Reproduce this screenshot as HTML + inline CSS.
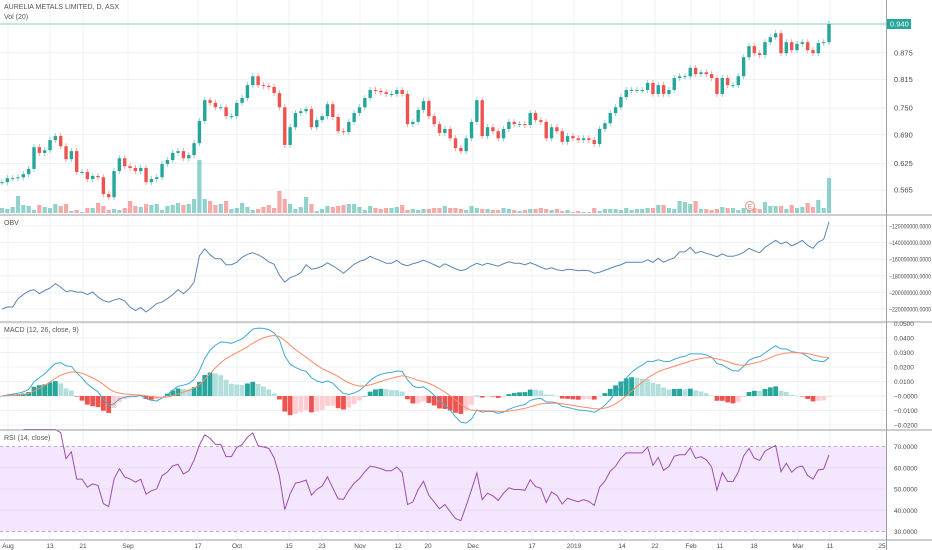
<!DOCTYPE html>
<html><head><meta charset="utf-8"><style>
html,body{margin:0;padding:0;background:#fff;}
svg{display:block;font-family:"Liberation Sans",sans-serif;}
</style></head><body>
<svg id="c" width="932" height="550" viewBox="0 0 932 550"></svg>
<script>
const closes=[0.583,0.592,0.592,0.594,0.601,0.613,0.662,0.649,0.655,0.678,0.687,0.664,0.635,0.653,0.606,0.606,0.590,0.597,0.594,0.556,0.549,0.608,0.637,0.619,0.615,0.608,0.615,0.583,0.590,0.594,0.624,0.633,0.649,0.653,0.637,0.644,0.671,0.721,0.768,0.762,0.752,0.752,0.732,0.732,0.762,0.773,0.802,0.822,0.802,0.800,0.798,0.784,0.752,
0.667,0.707,0.739,0.743,0.748,0.707,0.723,0.732,0.759,0.730,0.698,0.696,0.719,0.739,0.752,0.773,0.791,0.789,0.786,0.782,0.782,0.791,0.782,0.714,0.719,0.746,0.766,0.732,0.714,0.694,0.703,0.682,0.660,0.653,0.682,0.719,0.768,0.687,0.707,0.698,0.682,0.703,0.719,0.714,0.714,0.712,0.739,0.723,0.719,0.682,0.707,0.698,
0.674,0.687,0.682,0.678,0.682,0.678,0.669,0.703,0.716,0.739,0.752,0.775,0.791,0.791,0.791,0.791,0.807,0.782,0.802,0.782,0.791,0.818,0.822,0.822,0.841,0.827,0.831,0.827,0.818,0.782,0.818,0.802,0.802,0.822,0.865,0.890,0.874,0.870,0.899,0.910,0.919,0.874,0.899,0.881,0.895,0.899,0.881,0.874,0.897,0.899,0.940];
const volumes=[5,4,6,17,8,7,3,8,6,5,9,7,9,2,3,1,5,5,10,7,3,4,3,5,12,7,6,9,8,9,3,7,8,10,8,9,14,53,
14,12,8,9,12,4,5,10,6,3,4,6,8,5,22,14,9,4,6,16,9,2,4,7,6,7,8,9,9,6,3,7,5,4,5,5,6,8,3,
4,3,4,4,5,5,7,5,5,4,3,7,5,4,4,3,3,5,4,3,2,3,4,4,5,4,3,4,2,3,1,2,1,1,5,2,4,4,4,3,5,3,4,4,5,5,8,8,5,4,12,11,9,12,4,4,3,4,6,5,5,3,5,8,5,4,11,7,7,7,4,8,5,6,10,6,13,5,35];
const priceTicks=[0.875,0.815,0.750,0.690,0.625,0.565];
const obvTicks=[-120000000,-140000000,-160000000,-180000000,-200000000,-220000000];
const macdTicks=[0.05,0.04,0.03,0.02,0.01,0,-0.01,-0.02];
const rsiTicks=[70,60,50,40,30];
const timeLabels=["Aug","13","21","Sep","17","Oct","15","23","Nov","12","20","Dec","17","2019","14","22","Feb","11","18","Mar","11","25"];
const timeLabelX=[8,50,83,128,198,237,289,322,360,398,428,473,532,574,622,655,691,720,754,798,830,882];

const svg=document.getElementById('c');
const NS='http://www.w3.org/2000/svg';
function mk(tag,attrs,parent){const e=document.createElementNS(NS,tag);for(const k in attrs)e.setAttribute(k,attrs[k]);(parent||svg).appendChild(e);return e;}
function txt(x,y,s,attrs){const t=mk('text',Object.assign({x:x,y:y,'font-size':7.5,fill:'#4a4a4a'},attrs||{}));t.textContent=s;return t;}
const N=closes.length;
const xOf=i=>2+i*(827/(N-1));
const yP=p=>24+(0.94-p)*443;
const yV=v=>213-v;
const yM=v=>396-v*1450;
const yR=v=>489-(v-50)*2.125;
const PW=886;

timeLabelX.forEach(x=>{const l=mk('line',{x1:x,y1:0,x2:x,y2:540,stroke:'#eef1f6','stroke-width':1});

});
priceTicks.forEach(p=>{const l=mk('line',{x1:0,y1:yP(p),x2:PW,y2:yP(p),stroke:'#eef1f6'});

});
obvTicks.forEach((v,i)=>{const y=226+i*16.6;const l=mk('line',{x1:0,y1:y,x2:PW,y2:y,stroke:'#eef1f6'});

});
macdTicks.forEach(v=>{const l=mk('line',{x1:0,y1:yM(v),x2:PW,y2:yM(v),stroke:'#eef1f6'});

});

const band=mk('rect',{x:0,y:yR(70),width:PW,height:yR(30)-yR(70),fill:'#f3e6fd'});


[70,30].forEach(v=>{const l=mk('line',{x1:0,y1:yR(v),x2:PW,y2:yR(v),stroke:'#b9a9c6','stroke-dasharray':'3,3'});

});
[60,50,40].forEach(v=>{const l=mk('line',{x1:0,y1:yR(v),x2:PW,y2:yR(v),stroke:'#e8dcf3'});

});

const cw=3.4;
for(let i=0;i<N;i++){const o=i?closes[i-1]:closes[i];const up=closes[i]>=o;
const r=mk('rect',{x:xOf(i)-2.1,y:yV(volumes[i]),width:4.2,height:volumes[i],fill:up?'rgba(38,166,154,0.5)':'rgba(239,83,80,0.5)'});

}

const pl=mk('line',{x1:0,y1:yP(closes[N-1]),x2:PW,y2:yP(closes[N-1]),stroke:'#9fd8d4','stroke-width':1.2});



for(let i=0;i<N;i++){const o=i?closes[i-1]:closes[i];const c=closes[i];const up=c>=o;const col=up?'#26a69a':'#ef5350';
const top=Math.min(yP(o),yP(c)),bot=Math.max(yP(o),yP(c));
const w=mk('line',{x1:xOf(i),y1:top-3,x2:xOf(i),y2:bot+3,stroke:up?'#8fd0c9':'#f5a3a1','stroke-width':1});


const b=mk('rect',{x:xOf(i)-cw/2,y:top,width:cw,height:Math.max(1,bot-top),fill:col});

}

const eg=mk('g',{});


mk('circle',{cx:750,cy:206,r:4.5,fill:'#fff',stroke:'#ef8f8d'},eg);
const et=txt(750,208.5,'E',{'font-size':6,fill:'#ef5350','text-anchor':'middle'});eg.appendChild(et);

const obv=[0];for(let i=1;i<N;i++){obv.push(obv[i-1]+(closes[i]>closes[i-1]?volumes[i]:closes[i]<closes[i-1]?-volumes[i]:0));}
const omin=Math.min(...obv),omax=Math.max(...obv);
const yO=v=>312-(v-omin)/(omax-omin)*90;
const op=mk('polyline',{points:obv.map((v,i)=>xOf(i)+','+yO(v)).join(' '),fill:'none',stroke:'#5b86b5','stroke-width':1});



function ema(a,n){const k=2/(n+1);const r=[a[0]];for(let i=1;i<a.length;i++)r.push(a[i]*k+r[i-1]*(1-k));return r;}
const e12=ema(closes,12),e26=ema(closes,26);
const macd=e12.map((v,i)=>v-e26[i]);const sig=ema(macd,9);const hist=macd.map((v,i)=>v-sig[i]);
for(let i=0;i<N;i++){const h=hist[i],ph=i?hist[i-1]:0;let col;
if(h>=0)col=h>=ph?'#26a69a':'#b2dfdb';else col=h<ph?'#ef5350':'#ffcdd2';
const y0=yM(0),y1=yM(h);
const r=mk('rect',{x:xOf(i)-2.4,y:Math.min(y0,y1),width:4.8,height:Math.max(0.5,Math.abs(y1-y0)),fill:col});

}
const ml=mk('polyline',{points:macd.map((v,i)=>xOf(i)+','+yM(v)).join(' '),fill:'none',stroke:'#3fa9d0','stroke-width':1});


const sl=mk('polyline',{points:sig.map((v,i)=>xOf(i)+','+yM(v)).join(' '),fill:'none',stroke:'#ff8a65','stroke-width':1});



// RSI (cumulative seed for early bars)
const rsi=[];let sg=0,sl2=0,ag=0,al=0;
for(let i=1;i<N;i++){const d=closes[i]-closes[i-1];const g=Math.max(d,0),l=Math.max(-d,0);
if(i<=14){sg+=g;sl2+=l;ag=sg/i;al=sl2/i;}else{ag=(ag*13+g)/14;al=(al*13+l)/14;}
if(i>=4)rsi.push([i,al===0?100:100-100/(1+ag/al)]);}
const rl=mk('polyline',{points:rsi.map(p=>xOf(p[0])+','+yR(Math.min(78,p[1]))).join(' '),fill:'none',stroke:'#9c4fb0','stroke-width':1});



const ra=mk('rect',{x:PW,y:0,width:46,height:550,fill:'#fff'});


[215,322,430,540].forEach(y=>{const l=mk('line',{x1:0,y1:y,x2:932,y2:y,stroke:'#9a9ea6','stroke-width':1});

});
const va=mk('line',{x1:PW+0.5,y1:0,x2:PW+0.5,y2:550,stroke:'#9a9ea6'});



priceTicks.forEach(p=>{const t=txt(PW+8,yP(p)+2.5,p.toFixed(3));

});
const lb=mk('rect',{x:PW+1,y:yP(closes[N-1])-5,width:24,height:10,fill:'#26a69a'});


const lt=txt(PW+4,yP(closes[N-1])+2.5,closes[N-1].toFixed(3),{fill:'#fff'});


obvTicks.forEach((v,i)=>{const t=txt(PW+3,226+i*16.6+2.5,'−'+Math.abs(v)+'.0000',{'font-size':6,textLength:42,lengthAdjust:'spacingAndGlyphs'});

});
macdTicks.forEach(v=>{const s=v===0?'−0.0000':(v<0?'−'+Math.abs(v).toFixed(4):v.toFixed(4));
const t=txt(PW+8,Math.max(yM(v)+2.5,326),s,{'font-size':6.5});

});
rsiTicks.forEach(v=>{const t=txt(PW+8,yR(v)+2.5,v.toFixed(4),{'font-size':6.5});

});
timeLabels.forEach((s,i)=>{const t=txt(timeLabelX[i],548,s,{'text-anchor':'middle','font-size':6.5});

});

const t1=txt(4,9,'AURELIA METALS LIMITED, D, ASX',{'font-size':7,fill:'#555'});


const t2=txt(4,19,'Vol (20)',{'font-size':7,fill:'#555'});


const t3=txt(4,225,'OBV',{'font-size':7,fill:'#555'});


const t4=txt(4,332,'MACD (12, 26, close, 9)',{'font-size':7,fill:'#555'});


const t5=txt(4,440,'RSI (14, close)',{'font-size':7,fill:'#555'});


</script>
</body></html>
